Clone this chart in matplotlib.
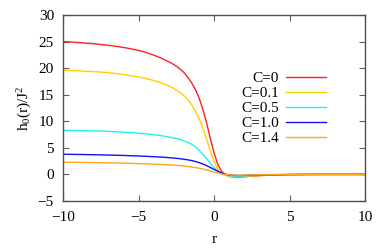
import matplotlib
matplotlib.use("Agg")
import matplotlib.pyplot as plt

plt.rcParams['font.family'] = ['Liberation Serif', 'DejaVu Serif']
plt.rcParams['mathtext.fontset'] = 'custom'
plt.rcParams['mathtext.rm'] = 'Liberation Serif'
plt.rcParams['mathtext.it'] = 'Liberation Serif'
plt.rcParams['mathtext.default'] = 'regular'

r = [-10, -9, -8, -7, -6, -5, -4.5, -4, -3.5, -3,
     -2.75, -2.5, -2.25, -2, -1.75, -1.5, -1.25, -1, -0.75, -0.5,
     -0.25, 0, 0.25, 0.5, 0.75, 1, 1.25, 1.5, 1.75, 2,
     2.5, 3, 3.5, 4, 5, 6, 7, 8, 10]

h_c0 = [25.0, 24.82, 24.6, 24.3, 23.9, 23.35, 22.95, 22.45, 21.88, 21.2,
        20.82, 20.38, 19.83, 19.2, 18.35, 17.33, 16.08, 14.48, 12.38, 9.78,
        6.88, 4.08, 1.88, 0.58, -0.07, -0.37, -0.47, -0.49, -0.47, -0.43,
        -0.33, -0.23, -0.16, -0.1, -0.04, -0.01, 0, 0, 0]
h_c01 = [19.6, 19.5, 19.35, 19.15, 18.8, 18.35, 18.05, 17.68, 17.22, 16.65,
         16.3, 15.88, 15.4, 14.85, 14.15, 13.2, 12.0, 10.6, 8.85, 6.75,
         4.5, 2.45, 1.0, 0.2, -0.2, -0.38, -0.43, -0.43, -0.4, -0.36,
         -0.27, -0.19, -0.13, -0.08, -0.03, -0.01, 0, 0, 0]
h_c05 = [8.3, 8.26, 8.2, 8.1, 7.95, 7.75, 7.63, 7.48, 7.29, 7.05,
         6.91, 6.75, 6.56, 6.33, 6.05, 5.7, 5.25, 4.6, 3.85, 3.0,
         2.1, 1.3, 0.65, 0.2, -0.1, -0.25, -0.31, -0.32, -0.3, -0.27,
         -0.19, -0.13, -0.09, -0.06, -0.02, -0.01, 0, 0, 0]
h_c10 = [3.8, 3.76, 3.71, 3.65, 3.57, 3.47, 3.41, 3.34, 3.26, 3.16,
         3.1, 3.03, 2.95, 2.86, 2.75, 2.62, 2.45, 2.24, 1.98, 1.67,
         1.32, 0.95, 0.6, 0.28, 0.04, -0.1, -0.17, -0.2, -0.2, -0.18,
         -0.14, -0.1, -0.07, -0.05, -0.02, -0.01, 0, 0, 0]
h_c14 = [2.3, 2.27, 2.23, 2.18, 2.12, 2.04, 1.99, 1.94, 1.88, 1.8,
         1.76, 1.71, 1.65, 1.58, 1.5, 1.41, 1.3, 1.17, 1.02, 0.85,
         0.66, 0.46, 0.27, 0.1, -0.02, -0.09, -0.13, -0.14, -0.14, -0.13,
         -0.1, -0.07, -0.05, -0.03, -0.01, 0, 0, 0, 0]

labels = ['C=0', 'C=0.1', 'C=0.5', 'C=1.0', 'C=1.4']
colors = ['#ff2020', '#ffd000', '#20f0f0', '#1010ff', '#ffa520']
series = [h_c0, h_c01, h_c05, h_c10, h_c14]

xticks = [-10, -5, 0, 5, 10]
yticks = [-5, 0, 5, 10, 15, 20, 25, 30]

fig = plt.figure(figsize=(3.92, 2.49), dpi=100)
ax = fig.add_axes([63/392, 48/249, 302/392, 186/249])

for y, c, lab in zip(series, colors, labels):
    ax.plot(r, y, color=c, lw=1.0, label=lab)

ax.set_xlim(-10, 10)
ax.set_ylim(-5, 30)
ax.set_xticks(xticks)
ax.set_yticks(yticks)
ax.set_xticklabels(['\u221210', '\u22125', '0', '5', '10'])
ax.set_yticklabels(['\u22125', '0', '5', '10', '15', '20', '25', '30'])
ax.tick_params(direction='in', top=True, right=True, length=4, width=0.8,
               color='#606060', labelsize=11)
ax.tick_params(axis='x', pad=7)
ax.tick_params(axis='y', pad=6.5)
for s in ax.spines.values():
    s.set_color('#505050')
    s.set_linewidth(1.0)

ax.set_xlabel('r', fontsize=11, labelpad=7)
ax.set_ylabel(r'h$_0$(r)/J$^2$', fontsize=11, labelpad=3)

leg = ax.legend(loc='upper right', bbox_to_anchor=(0.871, 0.695), frameon=False,
                markerfirst=False, fontsize=11, handlelength=2.6, handletextpad=0.5,
                labelspacing=0.08, borderpad=0, borderaxespad=0)

fig.savefig('out.png', dpi=100)
